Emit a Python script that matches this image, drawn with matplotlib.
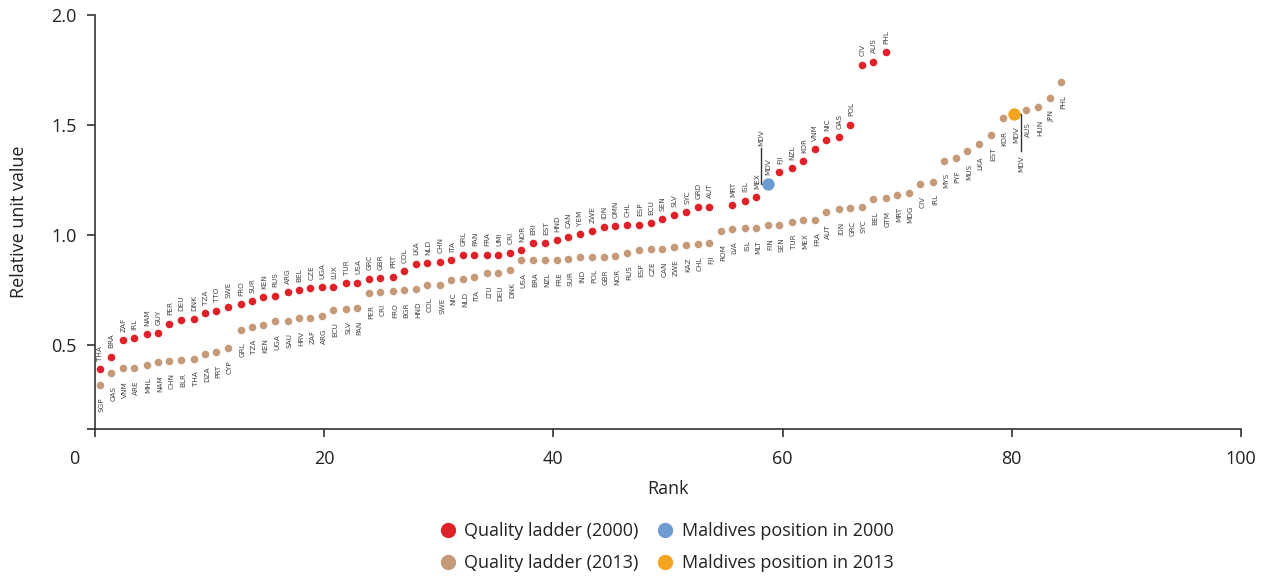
import matplotlib
matplotlib.use('Agg')
import matplotlib.pyplot as plt
from matplotlib.lines import Line2D

plt.rcParams['font.family'] = ['Open Sans', 'DejaVu Sans']

# quality ladder 2000 (rank position, relative unit value, country)
codes_2000 = ['THA', 'BRA', 'ZAF', 'IRL', 'NAM', 'GUY', 'PER', 'DEU', 'DNK', 'TZA',
              'TTO', 'SWE', 'FRO', 'SUR', 'KEN', 'RUS', 'ARG', 'BEL', 'CZE', 'UGA',
              'LUX', 'TUR', 'USA', 'GRC', 'GBR', 'PRT', 'COL', 'LKA', 'NLD', 'CHN',
              'ITA', 'GRL', 'PAN', 'FRA', 'UMI', 'CRI', 'NOR', 'ERI', 'EST', 'HND',
              'CAN', 'YEM', 'ZWE', 'IDN', 'OMN', 'CHL', 'ESP', 'ECU', 'SEN', 'SLV',
              'SYC', 'GRD', 'AUT', 'MRT', 'ISL', 'MEX', 'MDV', 'FJI', 'NZL', 'KOR',
              'VNM', 'NIC', 'OAS', 'POL', 'CIV', 'AUS', 'PHL']
rank_2000 = [0.4, 1.4, 2.4, 3.4, 4.5, 5.5, 6.5, 7.5, 8.6, 9.6,
             10.6, 11.6, 12.7, 13.7, 14.7, 15.7, 16.8, 17.8, 18.8, 19.8,
             20.8, 21.9, 22.9, 23.9, 24.9, 26.0, 27.0, 28.0, 29.0, 30.1,
             31.1, 32.1, 33.1, 34.2, 35.2, 36.2, 37.2, 38.2, 39.3, 40.3,
             41.3, 42.3, 43.4, 44.4, 45.4, 46.4, 47.5, 48.5, 49.5, 50.5,
             51.6, 52.6, 53.6, 55.6, 56.7, 57.7, 58.7, 59.7, 60.8, 61.8,
             62.8, 63.8, 64.9, 65.9, 66.9, 67.9, 69.0]
value_2000 = [0.390, 0.447, 0.521, 0.530, 0.550, 0.553, 0.597, 0.615, 0.618, 0.644,
              0.656, 0.674, 0.685, 0.700, 0.718, 0.724, 0.741, 0.748, 0.759, 0.762,
              0.764, 0.782, 0.783, 0.801, 0.805, 0.810, 0.835, 0.870, 0.871, 0.879,
              0.886, 0.910, 0.910, 0.911, 0.911, 0.920, 0.932, 0.964, 0.964, 0.976,
              0.992, 1.003, 1.018, 1.036, 1.040, 1.044, 1.047, 1.055, 1.073, 1.091,
              1.105, 1.125, 1.129, 1.136, 1.156, 1.171, 1.234, 1.285, 1.305, 1.336,
              1.391, 1.433, 1.444, 1.501, 1.774, 1.788, 1.832]

# quality ladder 2013
codes_2013 = ['SGP', 'OAS', 'VNM', 'ARE', 'MHL', 'NAM', 'CHN', 'BLR', 'THA', 'DZA',
              'PRT', 'CYP', 'GRL', 'TZA', 'KEN', 'UGA', 'SAU', 'HRV', 'ZAF', 'ARG',
              'ECU', 'SLV', 'PAN', 'PER', 'CRI', 'FRO', 'BGR', 'HND', 'COL', 'SWE',
              'NIC', 'NLD', 'ITA', 'LTU', 'DEU', 'DNK', 'USA', 'BRA', 'NZL', 'FRE',
              'SUR', 'IND', 'POL', 'GBR', 'NOR', 'RUS', 'ESP', 'CZE', 'CAN', 'ZWE',
              'KAZ', 'CHL', 'FJI', 'ROM', 'LVA', 'ISL', 'MLT', 'FIN', 'SEN', 'TUR',
              'MEX', 'FRA', 'AUT', 'IDN', 'GRC', 'SYC', 'BEL', 'GTM', 'MRT', 'MDG',
              'CIV', 'IRL', 'MYS', 'PYF', 'MUS', 'LKA', 'EST', 'KOR', 'MDV', 'AUS',
              'HUN', 'JPN', 'PHL']
rank_2013 = [0.4, 1.4, 2.4, 3.4, 4.5, 5.5, 6.5, 7.5, 8.6, 9.6,
             10.6, 11.6, 12.7, 13.7, 14.7, 15.7, 16.8, 17.8, 18.8, 19.8,
             20.8, 21.9, 22.9, 23.9, 24.9, 26.0, 27.0, 28.0, 29.0, 30.1,
             31.1, 32.1, 33.1, 34.2, 35.2, 36.2, 37.2, 38.2, 39.3, 40.3,
             41.3, 42.3, 43.4, 44.4, 45.4, 46.4, 47.5, 48.5, 49.5, 50.5,
             51.6, 52.6, 53.6, 54.6, 55.6, 56.7, 57.7, 58.7, 59.7, 60.8,
             61.8, 62.8, 63.8, 64.9, 65.9, 66.9, 67.9, 69.0, 70.0, 71.0,
             72.0, 73.1, 74.1, 75.1, 76.1, 77.1, 78.2, 79.2, 80.2, 81.2,
             82.3, 83.3, 84.3]
value_2013 = [0.317, 0.371, 0.394, 0.394, 0.410, 0.421, 0.429, 0.430, 0.438, 0.460,
              0.467, 0.485, 0.568, 0.582, 0.590, 0.608, 0.611, 0.621, 0.624, 0.632,
              0.660, 0.664, 0.667, 0.738, 0.742, 0.745, 0.750, 0.755, 0.773, 0.774,
              0.795, 0.800, 0.808, 0.827, 0.828, 0.842, 0.886, 0.888, 0.888, 0.888,
              0.891, 0.899, 0.901, 0.901, 0.905, 0.918, 0.930, 0.935, 0.935, 0.945,
              0.954, 0.959, 0.962, 1.017, 1.029, 1.033, 1.033, 1.044, 1.047, 1.059,
              1.067, 1.068, 1.106, 1.117, 1.121, 1.129, 1.164, 1.167, 1.183, 1.190,
              1.233, 1.242, 1.338, 1.349, 1.380, 1.414, 1.455, 1.530, 1.550, 1.568,
              1.582, 1.624, 1.694]

RED = '#DF2229'
BROWN = '#C59A79'
BLUE = '#6F9BD3'
ORANGE = '#F6A522'
AXC = '#333333'
LBL = '#444444'
lblfont = dict(fontsize=5.2, color=LBL, family=['Liberation Sans Narrow', 'DejaVu Sans'])

fig = plt.figure(figsize=(12.64, 5.76), dpi=100)
ax = fig.add_axes([95/1264, 1-429/576, 1146/1264, 414/576])

i00 = codes_2000.index('MDV')
i13 = codes_2013.index('MDV')
x_red = [r for i, r in enumerate(rank_2000) if i != i00]
y_red = [v for i, v in enumerate(value_2000) if i != i00]
x_br = [r for i, r in enumerate(rank_2013) if i != i13]
y_br = [v for i, v in enumerate(value_2013) if i != i13]

ax.scatter(x_br, y_br, s=30, color=BROWN, linewidths=0, zorder=3)
ax.scatter(x_red, y_red, s=30, color=RED, linewidths=0, zorder=3)
ax.scatter([rank_2000[i00]], [value_2000[i00]], s=80, color=BLUE, linewidths=0, zorder=4)
ax.scatter([rank_2013[i13]], [value_2013[i13]], s=80, color=ORANGE, linewidths=0, zorder=4)

# country codes
for c, x, y in zip(codes_2000, rank_2000, value_2000):
    ax.annotate(c, (x, y), xytext=(0.5, 6), textcoords='offset points',
                rotation=90, ha='center', va='bottom', **lblfont)
for c, x, y in zip(codes_2013, rank_2013, value_2013):
    ax.annotate(c, (x, y), xytext=(1.5, -9), textcoords='offset points',
                rotation=90, ha='center', va='top', **lblfont)

# Maldives call-outs
mx, my = rank_2000[i00], value_2000[i00]
ax.plot([mx, mx - 0.6, mx - 0.6], [my, my, my + 0.16], color=AXC, lw=1, zorder=2)
ax.annotate('MDV', (mx - 0.6, my + 0.16), xytext=(0, 2), textcoords='offset points',
            rotation=90, ha='center', va='bottom', **lblfont)
mx, my = rank_2013[i13], value_2013[i13]
ax.plot([mx, mx + 0.6, mx + 0.6], [my, my, my - 0.17], color=AXC, lw=1, zorder=2)
ax.annotate('MDV', (mx + 0.6, my - 0.17), xytext=(0, -3), textcoords='offset points',
            rotation=90, ha='center', va='top', **lblfont)

ax.set_xlim(0, 100)
ax.set_ylim(0.118, 2.0)
ax.set_xticks([0, 20, 40, 60, 80, 100])
ax.set_xticklabels(['', '20', '40', '60', '80', '100'])
ax.set_yticks([0.118, 0.5, 1.0, 1.5, 2.0])
ax.set_yticklabels(['', '0.5', '1.0', '1.5', '2.0'])
ax.annotate('0', xy=(0, 0), xycoords=('data', 'axes fraction'), xytext=(-15, -15),
            textcoords='offset points', ha='center', va='top', fontsize=13, color='#222222')
ax.tick_params(axis='both', direction='out', length=6, width=1.2, color=AXC,
               labelsize=13, labelcolor='#222222')
ax.tick_params(axis='x', pad=9)
ax.tick_params(axis='y', pad=7)
for s in ['top', 'right']:
    ax.spines[s].set_visible(False)
for s in ['left', 'bottom']:
    ax.spines[s].set_color(AXC)
    ax.spines[s].set_linewidth(1.2)

ax.set_xlabel('Rank', fontsize=13, color='#222222', labelpad=9)
ax.set_ylabel('Relative unit value', fontsize=13, color='#222222', labelpad=17)

handles = [
    Line2D([], [], marker='o', ls='', color=RED, markersize=10),
    Line2D([], [], marker='o', ls='', color=BROWN, markersize=10),
    Line2D([], [], marker='o', ls='', color=BLUE, markersize=10),
    Line2D([], [], marker='o', ls='', color=ORANGE, markersize=10),
]
labels = ['Quality ladder (2000)', 'Quality ladder (2013)',
          'Maldives position in 2000', 'Maldives position in 2013']
fig.legend(handles, labels, ncol=2, loc='center', bbox_to_anchor=(0.527, 0.05),
           frameon=False, fontsize=13, handlelength=1, handletextpad=0.4,
           columnspacing=1.0, labelspacing=0.75, labelcolor='#222222')

fig.savefig('out.png', dpi=100)
